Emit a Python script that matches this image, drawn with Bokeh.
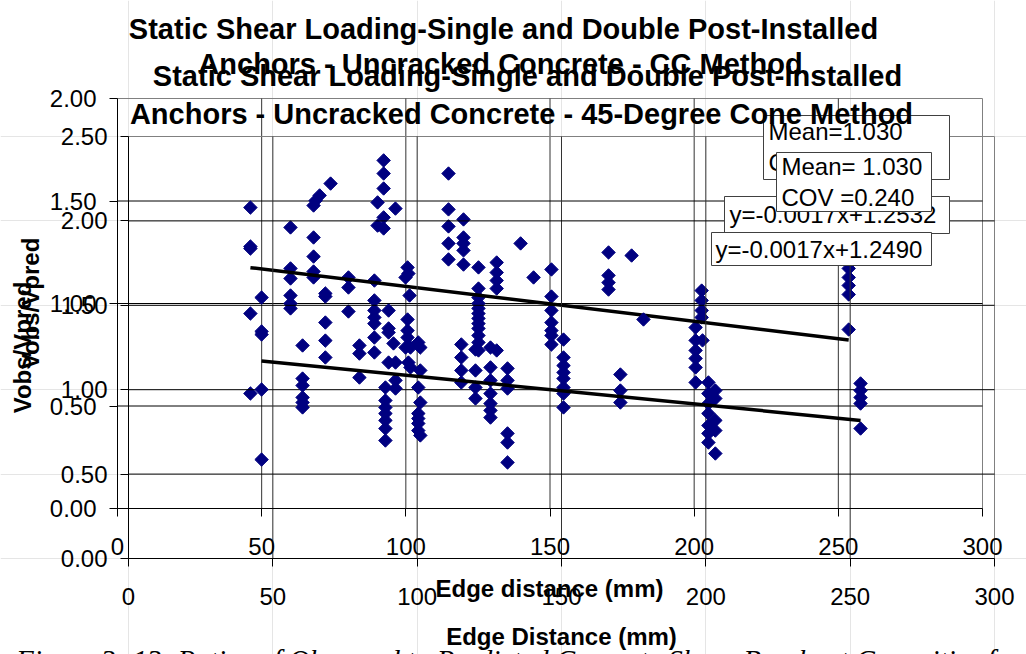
import math
from bokeh.plotting import figure
from bokeh.models import (Range1d, FixedTicker, Label, BoxAnnotation, LinearAxis,
                          PrintfTickFormatter, ColumnDataSource)
from bokeh.embed import file_html
from bokeh.resources import INLINE

# ---------------- data ----------------
# Chart 1 (underneath): CC Method
cc_edge = [46.1, 46.1, 46.1, 46.1, 46.1,
           60.0, 60.0, 60.0, 60.0, 60.0, 60.0,
           68.0, 68.0, 68.0, 68.0, 68.0, 68.7, 70.1, 73.9,
           80.1, 80.1, 80.1,
           89.1, 89.1, 89.1, 89.1, 89.1, 89.1, 89.1,
           90.2, 90.2,
           92.3, 92.3, 92.3, 92.3, 92.3,
           96.4,
           100.6, 100.9, 99.9, 101.3, 100.6, 100.6, 100.6, 99.9, 101.6, 100.9, 101.6,
           114.8, 114.8, 114.8, 114.8, 114.8,
           120.0, 120.0, 120.0, 120.0, 120.0,
           125.2, 125.2, 125.2, 125.2, 125.2, 125.2, 125.2, 125.2, 125.2, 125.2, 125.2, 125.2,
           131.5, 131.5, 131.5, 131.5, 131.5,
           139.8, 144.3,
           150.5, 150.5, 150.5, 150.5, 150.5, 150.5, 150.5,
           170.3, 170.3, 170.3, 170.3,
           178.3,
           200.5, 200.5, 200.5, 200.5, 200.5, 200.5,
           202.6, 202.6, 202.6, 202.6, 202.9,
           253.6, 253.6, 253.6, 253.6, 253.6]
cc_ratio = [1.468, 1.278, 1.268, 0.951, 0.561,
            1.371, 1.171, 1.122, 1.039, 1.000, 0.976,
            1.478, 1.322, 1.229, 1.156, 1.127, 1.502, 1.527, 1.585,
            1.127, 1.078, 0.961,
            1.112, 1.015, 0.966, 0.932, 0.902, 0.834, 0.761,
            1.493, 1.380,
            1.698, 1.634, 1.561, 1.420, 1.366,
            1.463,
            1.176, 1.146, 1.127, 1.039, 0.922, 0.868, 0.834, 0.785, 0.785, 0.712, 0.688,
            1.634, 1.459, 1.376, 1.293, 1.215,
            1.410, 1.322, 1.293, 1.259, 1.190,
            1.176, 1.073, 1.029, 1.000, 0.976, 0.951, 0.927, 0.902, 0.878, 0.844, 0.810, 0.771,
            1.200, 1.151, 1.112, 1.073, 0.771,
            1.293, 1.127,
            1.166, 1.034, 0.966, 0.907, 0.868, 0.844, 0.800,
            1.249, 1.137, 1.102, 1.068,
            1.234,
            0.883, 0.820, 0.771, 0.732, 0.688, 0.615,
            1.063, 1.015, 0.966, 0.932, 0.820,
            1.171, 1.127, 1.088, 1.044, 0.873]
cc_slope, cc_intercept = -0.0017, 1.2532
cc_mean, cc_cov = "1.030", "0.240"

# Chart 2 (on top): 45-Degree Cone Method
cone_edge = [46.1, 46.1, 46.1, 46.1, 46.1,
             60.3, 60.3, 60.3, 60.3, 60.3, 60.3,
             68.2, 68.2, 68.2, 68.2, 68.2,
             80.0, 80.0, 80.0,
             89.0, 89.0, 89.0, 89.0, 89.0, 89.0, 89.0,
             90.1, 90.1, 90.1, 90.1,
             91.8,
             92.5, 92.5, 92.5,
             100.4, 100.4, 100.4, 100.4, 100.4, 100.4,
             101.1, 101.1, 101.1, 101.1,
             115.3, 115.3, 115.3, 115.3,
             120.2, 120.2, 120.2, 120.2,
             125.4, 125.4, 125.4, 125.4, 125.4, 125.4, 125.4,
             131.3, 131.3, 131.3, 131.3, 131.3, 131.3,
             150.7, 150.7, 150.7, 150.7, 150.7, 150.7, 150.7, 150.7,
             170.4, 170.4, 170.4,
             178.4,
             200.9, 200.9, 200.9, 200.9, 200.9, 200.9, 200.9,
             203.3, 203.3, 203.3, 203.3, 203.3,
             253.6, 253.6, 253.6, 253.6, 253.6]
cone_ratio = [1.546, 1.345, 1.327, 1.001, 0.586,
              1.262, 1.066, 1.025, 0.954, 0.924, 0.895,
              1.570, 1.552, 1.398, 1.291, 1.191,
              1.262, 1.214, 1.072,
              1.013, 0.936, 0.895, 0.859, 0.818, 0.770, 0.699,
              1.469, 1.363, 1.339, 1.161,
              1.274,
              1.161, 1.055, 1.007,
              1.280, 1.013, 0.859, 0.829, 0.800, 0.758,
              1.250, 1.114, 0.924, 0.729,
              1.268, 1.191, 1.114, 1.043,
              1.238, 1.114, 1.013, 0.948,
              1.250, 1.132, 1.055, 0.977, 0.918, 0.877, 0.835,
              1.126, 1.055, 1.007, 0.741, 0.687, 0.569,
              1.297, 1.191, 1.143, 1.102, 1.066, 1.013, 0.977, 0.895,
              1.090, 0.995, 0.924,
              1.416,
              1.043, 0.977, 0.918, 0.859, 0.788, 0.741, 0.687,
              0.995, 0.948, 0.818, 0.758, 0.622,
              1.037, 0.995, 0.954, 0.918, 0.770]
cone_slope, cone_intercept = -0.0017, 1.2490
cone_mean, cone_cov = "1.030", "0.240"

x_ticks = [0, 50, 100, 150, 200, 250, 300]
cc_y_ticks = [0.0, 0.5, 1.0, 1.5, 2.0]
cone_y_ticks = [0.0, 0.5, 1.0, 1.5, 2.0, 2.5]

title_line1 = "Static Shear Loading-Single and Double Post-Installed"
cc_title_line2 = "Anchors - Uncracked Concrete - CC Method"
cone_title_line2 = "Anchors - Uncracked Concrete - 45-Degree Cone Method"
y_title = "Vobs/Vpred"
cc_x_title = "Edge distance (mm)"
cone_x_title = "Edge Distance (mm)"
caption_a = "Figure 3- 13"
caption_b = "Ratios of Observed to Predicted Concrete Shear Breakout Capacities for"

# ---------------- geometry & styling ----------------
W, H = 1026, 654
A_L, A_R, A_T, A_B = 117, 982, 98, 508     # CC chart plot area (px)
B_L, B_R, B_T, B_B = 128, 994, 136, 558    # cone chart plot area (px)
A_XMAX, A_YMAX = 300.0, 2.0
B_XMAX, B_YMAX = 300.0, 2.5
A_SX, A_SY = (A_R - A_L) / A_XMAX, (A_B - A_T) / A_YMAX   # px per data unit
B_SX, B_SY = (B_R - B_L) / B_XMAX, (B_B - B_T) / B_YMAX

def ax(px): return (px - A_L) / A_SX
def ay(py): return (A_B - py) / A_SY
def bx(px): return (px - B_L) / B_SX
def by(py): return (B_B - py) / B_SY

FONT = "Liberation Sans"
NAVY = "#000080"
TICK_FS = "24px"
BOX_FS = "24px"
TITLE_FS = "29px"
AXT_FS = "24px"
GRID_COLOR = "#333333"
BORDER_COLOR = "#808080"
TICK_LEN = 8

# the frame fills the whole canvas; both charts are placed through their own ranges
p = figure(width=W, height=H,
           x_range=Range1d(bx(0), bx(W)), y_range=Range1d(by(H), by(0)),
           output_backend="svg", toolbar_location=None,
           x_axis_location=None, y_axis_location=None,
           min_border_left=0, min_border_right=0, min_border_top=0, min_border_bottom=0)
p.extra_x_ranges = {"cc": Range1d(ax(0), ax(W))}
p.extra_y_ranges = {"cc": Range1d(ay(H), ay(0))}
p.background_fill_color = "white"
p.border_fill_color = "white"
p.outline_line_color = None


def add_axis(kw, side, ticks, standoff, fmt=None):
    a = LinearAxis(fixed_location=0, **kw)
    a.ticker = FixedTicker(ticks=ticks)
    a.bounds = (min(ticks), max(ticks))
    a.axis_line_color = "black"
    a.axis_line_width = 1
    a.major_tick_line_color = "black"
    a.major_tick_out = TICK_LEN
    a.major_tick_in = 0
    a.minor_tick_line_color = None
    a.major_label_text_font = FONT
    a.major_label_text_font_size = TICK_FS
    a.major_label_text_color = "black"
    a.major_label_standoff = standoff
    if fmt:
        a.formatter = PrintfTickFormatter(format=fmt)
    p.add_layout(a, side)


def chart(kw, xt, yt, xmax, ymax, edge, ratio, slope, intercept):
    # plot-area border
    p.quad(left=[0], right=[xmax], bottom=[0], top=[ymax], fill_color=None,
           line_color=BORDER_COLOR, line_width=1, **kw)
    # gridlines built from the tick lists
    gx = xt[1:-1]
    p.segment(x0=gx, x1=gx, y0=[0] * len(gx), y1=[ymax] * len(gx),
              line_color=GRID_COLOR, line_width=1, **kw)
    gy = yt[1:-1]
    p.segment(x0=[0] * len(gy), x1=[xmax] * len(gy), y0=gy, y1=gy,
              line_color="black", line_width=1, **kw)
    src = ColumnDataSource(dict(x=edge, y=ratio))
    p.scatter("x", "y", source=src, marker="square", angle=math.pi / 4, size=9.5,
              fill_color=NAVY, line_color=NAVY, **kw)
    x0, x1 = min(edge), max(edge)
    p.line([x0, x1], [intercept + slope * x0, intercept + slope * x1],
           line_color="black", line_width=3.5, **kw)
    add_axis(kw, "below", xt, 21)
    add_axis(kw, "left", yt, 13, "%.2f")


def text(x, y, s, size, bold=False, align="left", baseline="alphabetic", angle=0,
         font=FONT, italic=False):
    style = "bold" if bold else ("italic" if italic else "normal")
    p.add_layout(Label(x=x, y=y, text=s, text_font=font, text_font_size=size,
                       text_font_style=style, text_align=align, text_baseline=baseline,
                       angle=angle, text_color="black"))


def box(l, r, t, b):
    p.add_layout(BoxAnnotation(left=bx(l), right=bx(r), top=by(t), bottom=by(b),
                               fill_color="white", fill_alpha=1.0, line_color="#404040",
                               line_width=1, line_alpha=1.0))

CC = dict(x_range_name="cc", y_range_name="cc")
CONE = dict()

# ---- chart 1 (CC method), drawn first; chart 2 (45-degree cone) on top ----
chart(CC, x_ticks, cc_y_ticks, A_XMAX, A_YMAX, cc_edge, cc_ratio, cc_slope, cc_intercept)
chart(CONE, x_ticks, cone_y_ticks, B_XMAX, B_YMAX, cone_edge, cone_ratio, cone_slope,
      cone_intercept)

# ---- texts (titles, boxes, axis titles, caption) ----
text(bx(503), by(28), title_line1, TITLE_FS, bold=True, align="center")
text(bx(500), by(63), cc_title_line2, TITLE_FS, bold=True, align="center")
box(763, 949, 115, 179)
text(bx(768), by(131), "Mean=" + cc_mean, BOX_FS, baseline="middle")
text(bx(768), by(162), "COV=" + cc_cov, BOX_FS, baseline="middle")
box(724, 949, 196, 233)
text(bx(729), by(214), "y=%.4fx+%.4f" % (cc_slope, cc_intercept), BOX_FS, baseline="middle")
text(bx(30), by(303), y_title, AXT_FS, bold=True, align="center", baseline="middle",
     angle=math.pi / 2)
text(bx(549), by(588), cc_x_title, AXT_FS, bold=True, align="center", baseline="middle")

text(bx(527), by(75), title_line1, TITLE_FS, bold=True, align="center")
text(bx(521), by(113), cone_title_line2, TITLE_FS, bold=True, align="center")
box(776, 931, 152, 211)
text(bx(781), by(166), "Mean= " + cone_mean, BOX_FS, baseline="middle")
text(bx(781), by(197), "COV =" + cone_cov, BOX_FS, baseline="middle")
box(711, 931, 232, 265)
text(bx(715), by(249), "y=%.4fx+%.4f" % (cone_slope, cone_intercept), BOX_FS, baseline="middle")
text(bx(22), by(347), y_title, AXT_FS, bold=True, align="center", baseline="middle",
     angle=math.pi / 2)
text(bx(561), by(636), cone_x_title, AXT_FS, bold=True, align="center", baseline="middle")

text(bx(161), by(659), caption_a, "29px", italic=True, align="right", font="Liberation Serif")
text(bx(177), by(659), caption_b, "29px", italic=True, align="left", font="Liberation Serif")

open("out.html", "w").write(file_html(p, INLINE))
